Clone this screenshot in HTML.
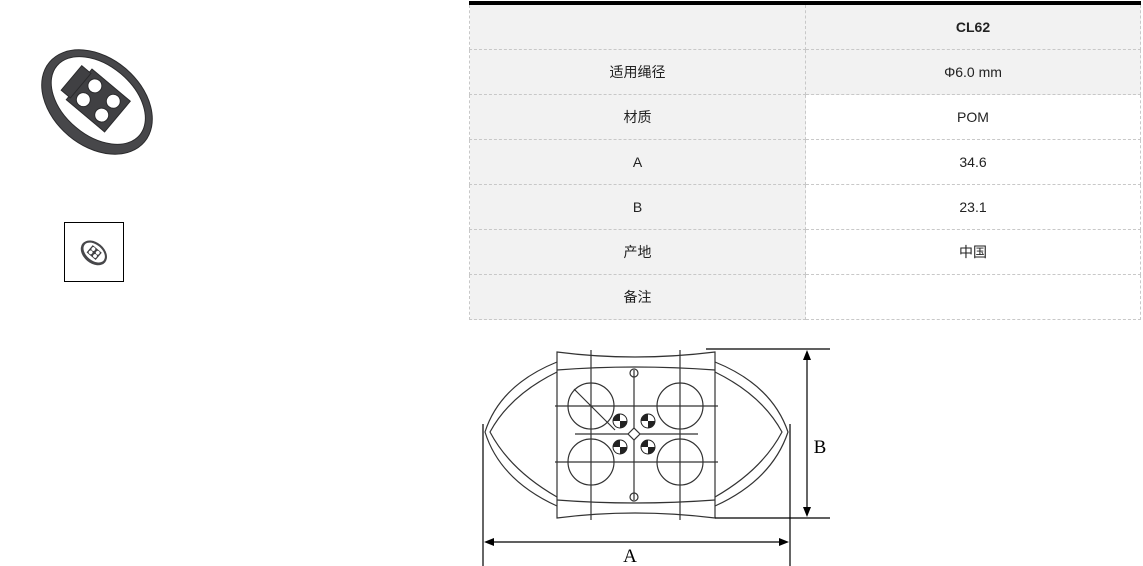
<!DOCTYPE html>
<html><head><meta charset="utf-8"><style>
body{margin:0;width:1143px;height:566px;background:#fff;position:relative;overflow:hidden;font-family:"Liberation Sans","Noto Sans CJK SC",sans-serif;}
table{position:absolute;left:469px;top:1px;width:672px;border-collapse:collapse;border-top:4px solid #000;font-size:14px;color:#222;}
td{height:44px;text-align:center;border:1px dashed #c8c8c8;padding:0;}
td.l{width:335px;background:#f2f2f2;}
.s{background:#f2f2f2;}
</style></head><body>
<svg style="position:absolute;left:30px;top:40px" width="135" height="125" viewBox="0 0 135 125">
<g transform="rotate(40 67 62)" stroke="#2a2a2c">
<ellipse cx="67" cy="62" rx="62" ry="44" fill="#47474a"/>
<ellipse cx="67" cy="60" rx="54" ry="35" fill="#fff"/>
<rect x="42" y="40" width="50" height="40" fill="#404043"/>
<rect x="32" y="44" width="12" height="32" fill="#404043"/>
<circle cx="55" cy="51" r="7" fill="#fff"/><circle cx="79" cy="51" r="7" fill="#fff"/>
<circle cx="55" cy="69" r="7" fill="#fff"/><circle cx="79" cy="69" r="7" fill="#fff"/>
</g></svg>
<div style="position:absolute;left:64px;top:222px;width:58px;height:58px;border:1px solid #000;"></div>
<svg style="position:absolute;left:78px;top:238px" width="32" height="30" viewBox="0 0 135 125">
<g transform="rotate(40 67 62)">
<ellipse cx="67" cy="62" rx="62" ry="44" fill="#47474a"/>
<ellipse cx="67" cy="60" rx="52" ry="33" fill="#fff"/>
<rect x="42" y="40" width="50" height="40" fill="#404043"/>
<circle cx="55" cy="51" r="8" fill="#fff"/><circle cx="79" cy="51" r="8" fill="#fff"/>
<circle cx="55" cy="69" r="8" fill="#fff"/><circle cx="79" cy="69" r="8" fill="#fff"/>
</g></svg>
<table>
<tr><td class="l"></td><td class="s"><b>CL62</b></td></tr>
<tr><td class="l">适用绳径</td><td class="s">Φ6.0 mm</td></tr>
<tr><td class="l">材质</td><td>POM</td></tr>
<tr><td class="l">A</td><td>34.6</td></tr>
<tr><td class="l">B</td><td>23.1</td></tr>
<tr><td class="l">产地</td><td>中国</td></tr>
<tr><td class="l">备注</td><td></td></tr>
</table>
<svg style="position:absolute;left:0;top:0" width="1143" height="566">
<g fill="none" stroke="#333" stroke-width="1.2">
<path d="M557 352 Q634 362 715 352 L715 518 Q634 508 557 518 Z"/>
<path d="M557 370 Q634 364 715 370"/><path d="M557 500 Q634 506 715 500"/>
<path d="M557 362 Q500 385 485 432 Q500 480 557 506"/>
<path d="M557 372 Q510 395 490 432 Q510 470 557 497"/>
<path d="M715 362 Q772 385 788 432 Q772 480 715 506"/>
<path d="M715 372 Q762 395 782 432 Q762 470 715 497"/>
<circle cx="591" cy="406" r="23"/><circle cx="680" cy="406" r="23"/>
<circle cx="591" cy="462" r="23"/><circle cx="680" cy="462" r="23"/>
<path d="M555 406 H718 M555 462 H718 M575 434 H698 M591 350 V520 M680 350 V520 M634 370 V500 M574 389 L615 430"/>
<path d="M634 428 L640 434 L634 440 L628 434 Z" fill="#fff"/>
<circle cx="634" cy="373" r="4"/><circle cx="634" cy="497" r="4"/>
</g>
<g stroke="#222" stroke-width="1">
<circle cx="620" cy="421" r="7" fill="#fff"/><circle cx="648" cy="421" r="7" fill="#fff"/>
<circle cx="620" cy="447" r="7" fill="#fff"/><circle cx="648" cy="447" r="7" fill="#fff"/>
</g>
<g fill="#222">
<path d="M620 421 h7 a7 7 0 0 1 -7 7Z M620 421 h-7 a7 7 0 0 1 7 -7Z"/>
<path d="M648 421 h7 a7 7 0 0 1 -7 7Z M648 421 h-7 a7 7 0 0 1 7 -7Z"/>
<path d="M620 447 h7 a7 7 0 0 1 -7 7Z M620 447 h-7 a7 7 0 0 1 7 -7Z"/>
<path d="M648 447 h7 a7 7 0 0 1 -7 7Z M648 447 h-7 a7 7 0 0 1 7 -7Z"/>
</g>
<g stroke="#000" stroke-width="1.2" fill="none">
<path d="M483 424 V566 M790 424 V566 M488 542 H785 M706 349 H830 M715 518 H830 M807 354 V513"/>
</g>
<g fill="#000">
<path d="M484 542 l10 -4 v8Z M789 542 l-10 -4 v8Z M807 350 l-4 10 h8Z M807 517 l-4 -10 h8Z"/>
</g>
<text x="630" y="562" font-family="Liberation Serif,serif" font-size="19" text-anchor="middle">A</text>
<text x="820" y="453" font-family="Liberation Serif,serif" font-size="19" text-anchor="middle">B</text>
</svg>
</body></html>
